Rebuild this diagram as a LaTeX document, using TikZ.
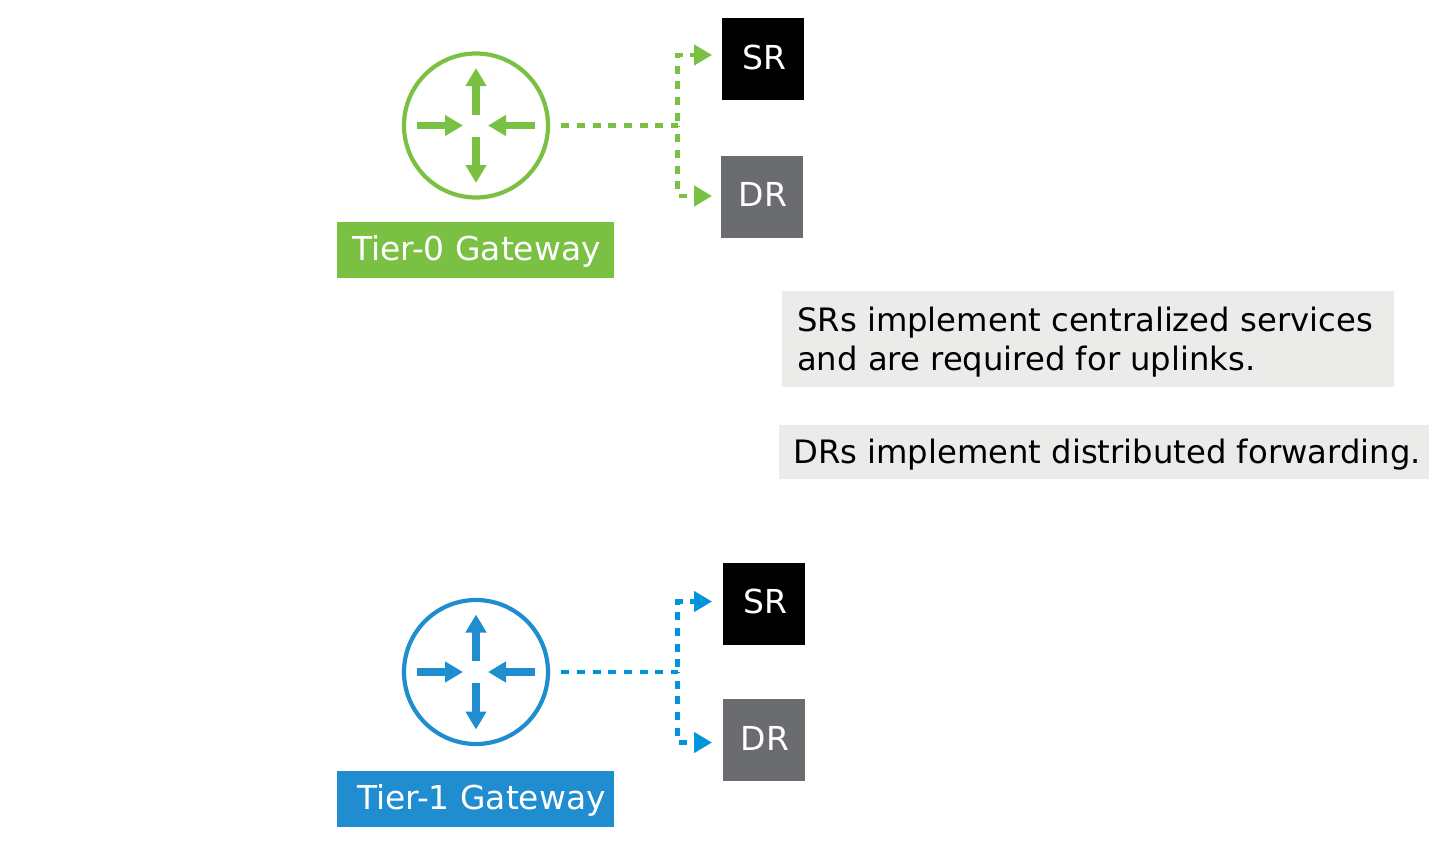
\documentclass[tikz,border=0pt]{standalone}
\usepackage{fontspec}
\setmainfont{DejaVu Sans}
\usetikzlibrary{arrows.meta}
\definecolor{tgreen}{HTML}{7AC143}
\definecolor{tblue}{HTML}{1F8DD0}
\definecolor{dblue}{HTML}{0095DA}
\definecolor{drgray}{HTML}{6A6C70}
\definecolor{notegray}{HTML}{EBEBE9}
\tikzset{
  x=1pt,y=-1pt,
  gwcircle/.style={circle,draw,line width=4.2pt,minimum size=144pt,inner sep=0pt},
  gwlabel/.style={rectangle,minimum width=277pt,minimum height=56pt,inner sep=0pt},
  gwtext/.style={anchor=base west,inner sep=0pt,text=white,font=\fontsize{32.9}{40}\selectfont},
  routerbox/.style={rectangle,minimum size=82pt,inner sep=0pt},
  routertext/.style={anchor=base,inner sep=0pt,text=white,font=\fontsize{33}{40}\selectfont},
  notebox/.style={rectangle,fill=notegray,inner sep=0pt},
  notetext/.style={anchor=base west,inner sep=0pt,text=black,font=\fontsize{32.25}{40}\selectfont},
  iconarrow/.style={line width=7.5pt,-{Triangle[length=18pt,width=20pt]}},
  connline/.style={line width=4.3pt,dash pattern=on 8pt off 7.7pt},
  connup/.style={connline,dash phase=11pt,-{Triangle[length=18pt,width=20pt]}},
  conndown/.style={connline,dash phase=7pt,-{Triangle[length=18pt,width=20pt]}}
}
\newcommand{\iconarrows}[2]{%
  \draw[iconarrow,color=#2] ([yshift=-11pt]#1.center) -- ([yshift=-57.5pt]#1.center);
  \draw[iconarrow,color=#2] ([yshift=11pt]#1.center) -- ([yshift=57.5pt]#1.center);
  \draw[iconarrow,color=#2] ([xshift=-59pt]#1.center) -- ([xshift=-13pt]#1.center);
  \draw[iconarrow,color=#2] ([xshift=59pt]#1.center) -- ([xshift=12pt]#1.center);
}
\begin{document}
\begin{tikzpicture}
\useasboundingbox (0,0) rectangle (1444,862);
% Tier-0
\node[gwcircle,draw=tgreen] (gwa) at (476,125.5) {};
\iconarrows{gwa}{tgreen}
\node[gwlabel,fill=tgreen] (la) at (475.5,250) {};
\node[gwtext] (lat) at (352,260) {Tier-0 Gateway};
\node[routerbox,fill=black] (sra) at (763,59) {};
\node[routertext] (srat) at (764,69) {SR};
\node[routerbox,fill=drgray] (dra) at (762,197) {};
\node[routertext] (drat) at (763,206) {DR};
\coordinate (ja) at (677.5,125.5);
\coordinate (ea) at (712,55);
\coordinate (fa) at (712,196);
\draw[connline,color=tgreen,shorten <=11pt] (gwa.east) -- (ja);
\draw[connup,color=tgreen] (ja) |- (ea);
\draw[conndown,color=tgreen] (ja) |- (fa);
% Tier-1
\node[gwcircle,draw=tblue] (gwb) at (476,672) {};
\iconarrows{gwb}{tblue}
\node[gwlabel,fill=tblue] (lb) at (475.5,799) {};
\node[gwtext] (lbt) at (357,809) {Tier-1 Gateway};
\node[routerbox,fill=black] (srb) at (764,604) {};
\node[routertext] (srbt) at (765,613.5) {SR};
\node[routerbox,fill=drgray] (drb) at (764,740) {};
\node[routertext] (drbt) at (765,750) {DR};
\coordinate (jb) at (677.5,672);
\coordinate (eb) at (712,601.5);
\coordinate (fb) at (712,742.5);
\draw[connline,color=dblue,shorten <=11pt] (gwb.east) -- (jb);
\draw[connup,color=dblue] (jb) |- (eb);
\draw[conndown,color=dblue] (jb) |- (fb);
% notes
\node[notebox,minimum width=612pt,minimum height=96pt] (na) at (1088,339) {};
\node[notetext] (nat1) at (797,331) {SRs implement centralized services};
\node[notetext] (nat2) at (797,370) {and are required for uplinks.};
\node[notebox,minimum width=650pt,minimum height=54pt] (nb) at (1104,452) {};
\node[notetext] (nbt) at (793,463.5) {DRs implement distributed forwarding.};
\end{tikzpicture}
\end{document}
